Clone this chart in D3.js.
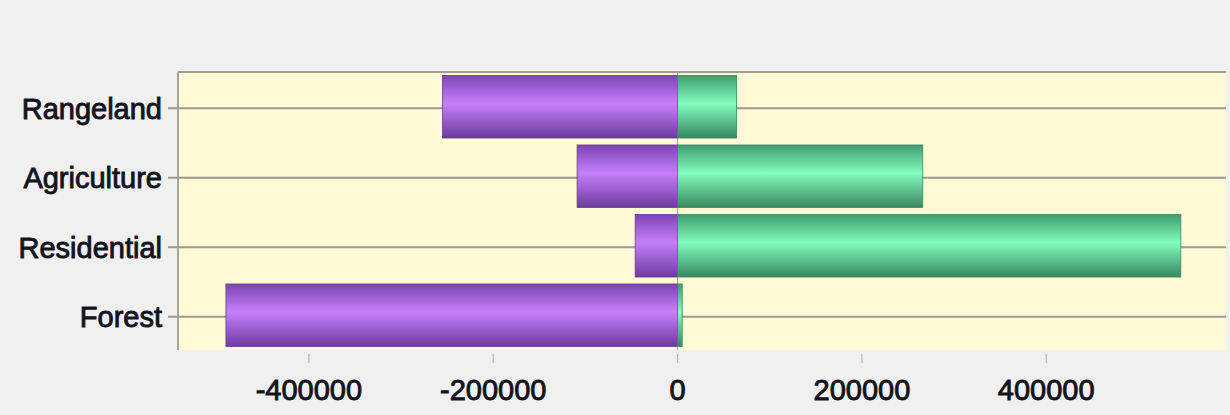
<!DOCTYPE html>
<html>
<head>
<meta charset="utf-8">
<script src="https://cdn.jsdelivr.net/npm/d3@7"></script>
<style>
  html, body { margin: 0; padding: 0; background: #f0f0f0; }
  svg { display: block; }
  text { font-family: "Liberation Sans", Arial, sans-serif; }
</style>
</head>
<body>
<svg id="chart" width="1230" height="415"></svg>
<script>
const categories = ["Rangeland", "Agriculture", "Residential", "Forest"];
const lossValues = [-255000, -109000, -46000, -490000];
const gainValues = [64000, 266000, 546000, 5000];
const xTickValues = [-400000, -200000, 0, 200000, 400000];
const xDomain = [-542000, 595000];

const W = 1230, H = 415;
const plot = { left: 178, right: 1226, top: 72, bottom: 350 };

const svg = d3.select("#chart");
svg.append("rect").attr("width", W).attr("height", H).attr("fill", "#f0f0f0");

const x = d3.scaleLinear().domain(xDomain).range([plot.left, plot.right]);
const y = d3.scaleBand().domain(categories).range([plot.top, plot.bottom])
  .paddingInner(0.1).paddingOuter(0.05);

// gradients
const defs = svg.append("defs");
function grad(id, edgeTop, mid, edgeBottom) {
  const g = defs.append("linearGradient").attr("id", id)
    .attr("x1", 0).attr("y1", 0).attr("x2", 0).attr("y2", 1);
  g.append("stop").attr("offset", "0%").attr("stop-color", edgeTop);
  g.append("stop").attr("offset", "45%").attr("stop-color", mid);
  g.append("stop").attr("offset", "100%").attr("stop-color", edgeBottom);
}
grad("gPurple", "#7c44b4", "#c67ffb", "#6d3a9e");
grad("gGreen", "#3f9c6e", "#82fcbf", "#38875f");

// plot background
svg.append("rect")
  .attr("x", plot.left).attr("y", plot.top)
  .attr("width", plot.right - plot.left).attr("height", plot.bottom - plot.top)
  .attr("fill", "#fffad6");

// horizontal grid lines through category centres
svg.append("g").selectAll("line").data(categories).join("line")
  .attr("x1", plot.left - 10).attr("x2", plot.right)
  .attr("y1", d => y(d) + y.bandwidth() / 2 + 1.5)
  .attr("y2", d => y(d) + y.bandwidth() / 2 + 1.5)
  .attr("stroke", "#9c988e").attr("stroke-width", 1.8);

// zero line
svg.append("line")
  .attr("x1", x(0)).attr("x2", x(0))
  .attr("y1", plot.top).attr("y2", plot.bottom)
  .attr("stroke", "#b0ab9e").attr("stroke-width", 1.2);

// plot frame (top + left)
svg.append("line").attr("x1", plot.left).attr("x2", plot.right)
  .attr("y1", plot.top).attr("y2", plot.top)
  .attr("stroke", "#a09c94").attr("stroke-width", 1.8);
svg.append("line").attr("x1", plot.left).attr("x2", plot.left)
  .attr("y1", plot.top).attr("y2", plot.bottom)
  .attr("stroke", "#a09c94").attr("stroke-width", 1.8);

// bars
const rows = categories.map((c, i) => ({ c, loss: lossValues[i], gain: gainValues[i] }));
const bars = svg.append("g");
bars.selectAll("rect.loss").data(rows).join("rect")
  .attr("class", "loss")
  .attr("x", d => x(d.loss))
  .attr("width", d => x(0) - x(d.loss))
  .attr("y", d => y(d.c))
  .attr("height", y.bandwidth())
  .attr("fill", "url(#gPurple)")
  .attr("stroke", "#6a3a98").attr("stroke-width", 0.8);
bars.selectAll("rect.gain").data(rows).join("rect")
  .attr("class", "gain")
  .attr("x", x(0))
  .attr("width", d => x(d.gain) - x(0))
  .attr("y", d => y(d.c))
  .attr("height", y.bandwidth())
  .attr("fill", "url(#gGreen)")
  .attr("stroke", "#3a8a62").attr("stroke-width", 0.8);

// y labels
svg.append("g").selectAll("text").data(categories).join("text")
  .attr("x", plot.left - 16)
  .attr("y", d => y(d) + y.bandwidth() / 2 + 1.5)
  .attr("dy", "0.36em")
  .attr("text-anchor", "end")
  .attr("font-size", 29)
  .attr("fill", "#14141f")
  .attr("stroke", "#14141f").attr("stroke-width", 0.9)
  .text(d => d);

// x axis ticks & labels
const fmt = d3.formatLocale({ decimal: ".", thousands: "", grouping: [3], currency: ["", ""], minus: "-" }).format("d");
const xg = svg.append("g");
xg.selectAll("line").data(xTickValues).join("line")
  .attr("x1", d => x(d)).attr("x2", d => x(d))
  .attr("y1", plot.bottom + 4).attr("y2", plot.bottom + 13)
  .attr("stroke", "#b5b5b5").attr("stroke-width", 1.2);
xg.selectAll("text").data(xTickValues).join("text")
  .attr("x", d => x(d))
  .attr("y", 400)
  .attr("text-anchor", "middle")
  .attr("font-size", 29)
  .attr("fill", "#14141f")
  .attr("stroke", "#14141f").attr("stroke-width", 0.9)
  .text(d => fmt(d));
</script>
</body>
</html>
